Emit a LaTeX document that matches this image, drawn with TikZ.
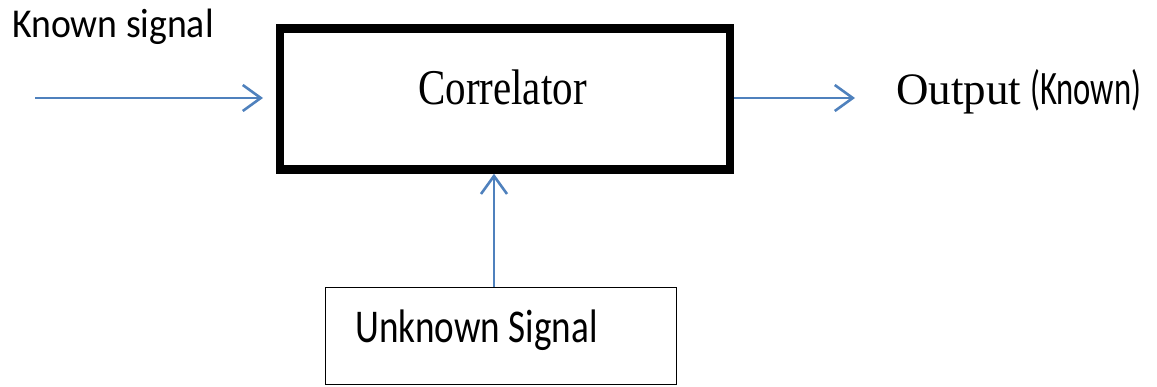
\documentclass[tikz,border=0pt]{standalone}
\usepackage{fontspec}
\usepackage{graphicx}
\setmainfont{Liberation Serif}
\newfontfamily\carl{Carlito}
\usetikzlibrary{arrows.meta}
\definecolor{arrblue}{HTML}{4F81BD}
\begin{document}
\begin{tikzpicture}[x=1pt,y=-1pt,
  arr/.style={draw=arrblue,line width=2.6pt,-{Straight Barb[length=18pt,width=26pt]}},
  bigbox/.style={draw,line width=8.5pt,minimum width=450pt,minimum height=141pt,inner sep=0pt},
  smallbox/.style={draw,line width=1.5pt,minimum width=351pt,minimum height=97pt,inner sep=0pt},
  txt/.style={anchor=base west,inner sep=0pt}]
\useasboundingbox (0,0) rectangle (1157,387);
\node[bigbox] (corr) at (505,99) {};
\node[smallbox] (unk) at (501,336) {};
\node[txt] (corrt) at (418,105) {\fontsize{50pt}{50pt}\selectfont\scalebox{0.82}[1]{Correlator}};
\node[txt] (known) at (12,38) {\carl\fontsize{41pt}{41pt}\selectfont\scalebox{0.92}[1]{Known signal}};
\node[txt] (unkt) at (355,343) {\carl\fontsize{47pt}{47pt}\selectfont\scalebox{0.79}[1]{Unknown Signal}};
\node[txt] (outt) at (896,105) {\fontsize{45pt}{45pt}\selectfont Output\hspace{9pt}\carl\fontsize{48pt}{48pt}\selectfont\scalebox{0.68}[1]{(Known)}};
\coordinate (ks) at (35,98);
\coordinate (ke) at (263,98);
\coordinate (oe) at (855,98);
\draw[arr] (ks) -- (ke);
\draw[arr] (corr.east |- oe) -- (oe);
\draw[arr] ([xshift=-7pt]unk.north) -- ([xshift=-7pt]unk.north |- corr.south);
\end{tikzpicture}
\end{document}
